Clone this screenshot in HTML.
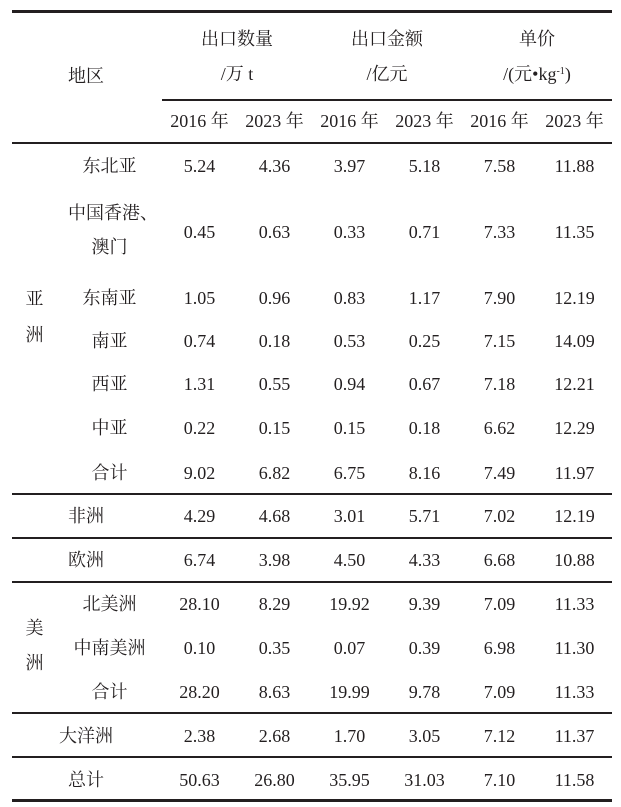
<!DOCTYPE html>
<html><head><meta charset="utf-8">
<style>
html,body{margin:0;padding:0;background:#fff;}
body{width:621px;height:807px;position:relative;overflow:hidden;
font-family:"Liberation Serif","Noto Serif CJK SC",serif;font-size:18px;color:#231f20;}
.l{position:absolute;left:12px;width:600px;background:#231f20;height:2px;}
.t{position:absolute;height:20px;line-height:20px;width:100px;text-align:center;white-space:nowrap;}
sup{font-size:10px;line-height:0;vertical-align:6px;}
</style></head><body>
<div class="l" style="top:10px;height:3px"></div>
<div class="l" style="top:99px;left:162px;width:450px"></div>
<div class="l" style="top:142px"></div>
<div class="l" style="top:493px"></div>
<div class="l" style="top:537px"></div>
<div class="l" style="top:581px"></div>
<div class="l" style="top:712px"></div>
<div class="l" style="top:756px"></div>
<div class="l" style="top:799px;height:3px"></div>

<div class="t" style="left:36px;top:66px">地区</div>
<div class="t" style="left:187px;top:29px">出口数量</div>
<div class="t" style="left:187px;top:64px">/万 t</div>
<div class="t" style="left:337px;top:29px">出口金额</div>
<div class="t" style="left:337px;top:64px">/亿元</div>
<div class="t" style="left:487px;top:29px">单价</div>
<div class="t" style="left:487px;top:64px">/(元•kg<sup>-1</sup>)</div>

<div class="t" style="left:149.5px;top:111px">2016 年</div>
<div class="t" style="left:224.5px;top:111px">2023 年</div>
<div class="t" style="left:299.5px;top:111px">2016 年</div>
<div class="t" style="left:374.5px;top:111px">2023 年</div>
<div class="t" style="left:449.5px;top:111px">2016 年</div>
<div class="t" style="left:524.5px;top:111px">2023 年</div>

<div class="t" style="left:-15.5px;top:289px">亚</div>
<div class="t" style="left:-15.5px;top:325px">洲</div>
<div class="t" style="left:-15.5px;top:618px">美</div>
<div class="t" style="left:-15.5px;top:653px">洲</div>

<div class="t" style="left:59.5px;top:155.5px">东北亚</div>
<div class="t" style="left:68px;top:203px;width:auto;text-align:left">中国香港、</div>
<div class="t" style="left:59.5px;top:237px">澳门</div>
<div class="t" style="left:59.5px;top:287.5px">东南亚</div>
<div class="t" style="left:59.5px;top:330.5px">南亚</div>
<div class="t" style="left:59.5px;top:374px">西亚</div>
<div class="t" style="left:59.5px;top:418.3px">中亚</div>
<div class="t" style="left:59.5px;top:462.5px">合计</div>
<div class="t" style="left:36px;top:506.3px">非洲</div>
<div class="t" style="left:36px;top:550px">欧洲</div>
<div class="t" style="left:59.5px;top:593.7px">北美洲</div>
<div class="t" style="left:59.5px;top:637.7px">中南美洲</div>
<div class="t" style="left:59.5px;top:681.7px">合计</div>
<div class="t" style="left:36px;top:725.7px">大洋洲</div>
<div class="t" style="left:36px;top:769.7px">总计</div>

<!-- data rows -->
<div style="position:absolute;left:0;top:155.5px">
<div class="t" style="left:149.5px;top:0">5.24</div><div class="t" style="left:224.5px;top:0">4.36</div><div class="t" style="left:299.5px;top:0">3.97</div><div class="t" style="left:374.5px;top:0">5.18</div><div class="t" style="left:449.5px;top:0">7.58</div><div class="t" style="left:524.5px;top:0">11.88</div></div>
<div style="position:absolute;left:0;top:222px">
<div class="t" style="left:149.5px;top:0">0.45</div><div class="t" style="left:224.5px;top:0">0.63</div><div class="t" style="left:299.5px;top:0">0.33</div><div class="t" style="left:374.5px;top:0">0.71</div><div class="t" style="left:449.5px;top:0">7.33</div><div class="t" style="left:524.5px;top:0">11.35</div></div>
<div style="position:absolute;left:0;top:287.5px">
<div class="t" style="left:149.5px;top:0">1.05</div><div class="t" style="left:224.5px;top:0">0.96</div><div class="t" style="left:299.5px;top:0">0.83</div><div class="t" style="left:374.5px;top:0">1.17</div><div class="t" style="left:449.5px;top:0">7.90</div><div class="t" style="left:524.5px;top:0">12.19</div></div>
<div style="position:absolute;left:0;top:330.5px">
<div class="t" style="left:149.5px;top:0">0.74</div><div class="t" style="left:224.5px;top:0">0.18</div><div class="t" style="left:299.5px;top:0">0.53</div><div class="t" style="left:374.5px;top:0">0.25</div><div class="t" style="left:449.5px;top:0">7.15</div><div class="t" style="left:524.5px;top:0">14.09</div></div>
<div style="position:absolute;left:0;top:374px">
<div class="t" style="left:149.5px;top:0">1.31</div><div class="t" style="left:224.5px;top:0">0.55</div><div class="t" style="left:299.5px;top:0">0.94</div><div class="t" style="left:374.5px;top:0">0.67</div><div class="t" style="left:449.5px;top:0">7.18</div><div class="t" style="left:524.5px;top:0">12.21</div></div>
<div style="position:absolute;left:0;top:418.3px">
<div class="t" style="left:149.5px;top:0">0.22</div><div class="t" style="left:224.5px;top:0">0.15</div><div class="t" style="left:299.5px;top:0">0.15</div><div class="t" style="left:374.5px;top:0">0.18</div><div class="t" style="left:449.5px;top:0">6.62</div><div class="t" style="left:524.5px;top:0">12.29</div></div>
<div style="position:absolute;left:0;top:462.5px">
<div class="t" style="left:149.5px;top:0">9.02</div><div class="t" style="left:224.5px;top:0">6.82</div><div class="t" style="left:299.5px;top:0">6.75</div><div class="t" style="left:374.5px;top:0">8.16</div><div class="t" style="left:449.5px;top:0">7.49</div><div class="t" style="left:524.5px;top:0">11.97</div></div>
<div style="position:absolute;left:0;top:506.3px">
<div class="t" style="left:149.5px;top:0">4.29</div><div class="t" style="left:224.5px;top:0">4.68</div><div class="t" style="left:299.5px;top:0">3.01</div><div class="t" style="left:374.5px;top:0">5.71</div><div class="t" style="left:449.5px;top:0">7.02</div><div class="t" style="left:524.5px;top:0">12.19</div></div>
<div style="position:absolute;left:0;top:550px">
<div class="t" style="left:149.5px;top:0">6.74</div><div class="t" style="left:224.5px;top:0">3.98</div><div class="t" style="left:299.5px;top:0">4.50</div><div class="t" style="left:374.5px;top:0">4.33</div><div class="t" style="left:449.5px;top:0">6.68</div><div class="t" style="left:524.5px;top:0">10.88</div></div>
<div style="position:absolute;left:0;top:593.7px">
<div class="t" style="left:149.5px;top:0">28.10</div><div class="t" style="left:224.5px;top:0">8.29</div><div class="t" style="left:299.5px;top:0">19.92</div><div class="t" style="left:374.5px;top:0">9.39</div><div class="t" style="left:449.5px;top:0">7.09</div><div class="t" style="left:524.5px;top:0">11.33</div></div>
<div style="position:absolute;left:0;top:637.7px">
<div class="t" style="left:149.5px;top:0">0.10</div><div class="t" style="left:224.5px;top:0">0.35</div><div class="t" style="left:299.5px;top:0">0.07</div><div class="t" style="left:374.5px;top:0">0.39</div><div class="t" style="left:449.5px;top:0">6.98</div><div class="t" style="left:524.5px;top:0">11.30</div></div>
<div style="position:absolute;left:0;top:681.7px">
<div class="t" style="left:149.5px;top:0">28.20</div><div class="t" style="left:224.5px;top:0">8.63</div><div class="t" style="left:299.5px;top:0">19.99</div><div class="t" style="left:374.5px;top:0">9.78</div><div class="t" style="left:449.5px;top:0">7.09</div><div class="t" style="left:524.5px;top:0">11.33</div></div>
<div style="position:absolute;left:0;top:725.7px">
<div class="t" style="left:149.5px;top:0">2.38</div><div class="t" style="left:224.5px;top:0">2.68</div><div class="t" style="left:299.5px;top:0">1.70</div><div class="t" style="left:374.5px;top:0">3.05</div><div class="t" style="left:449.5px;top:0">7.12</div><div class="t" style="left:524.5px;top:0">11.37</div></div>
<div style="position:absolute;left:0;top:769.7px">
<div class="t" style="left:149.5px;top:0">50.63</div><div class="t" style="left:224.5px;top:0">26.80</div><div class="t" style="left:299.5px;top:0">35.95</div><div class="t" style="left:374.5px;top:0">31.03</div><div class="t" style="left:449.5px;top:0">7.10</div><div class="t" style="left:524.5px;top:0">11.58</div></div>
</body></html>
